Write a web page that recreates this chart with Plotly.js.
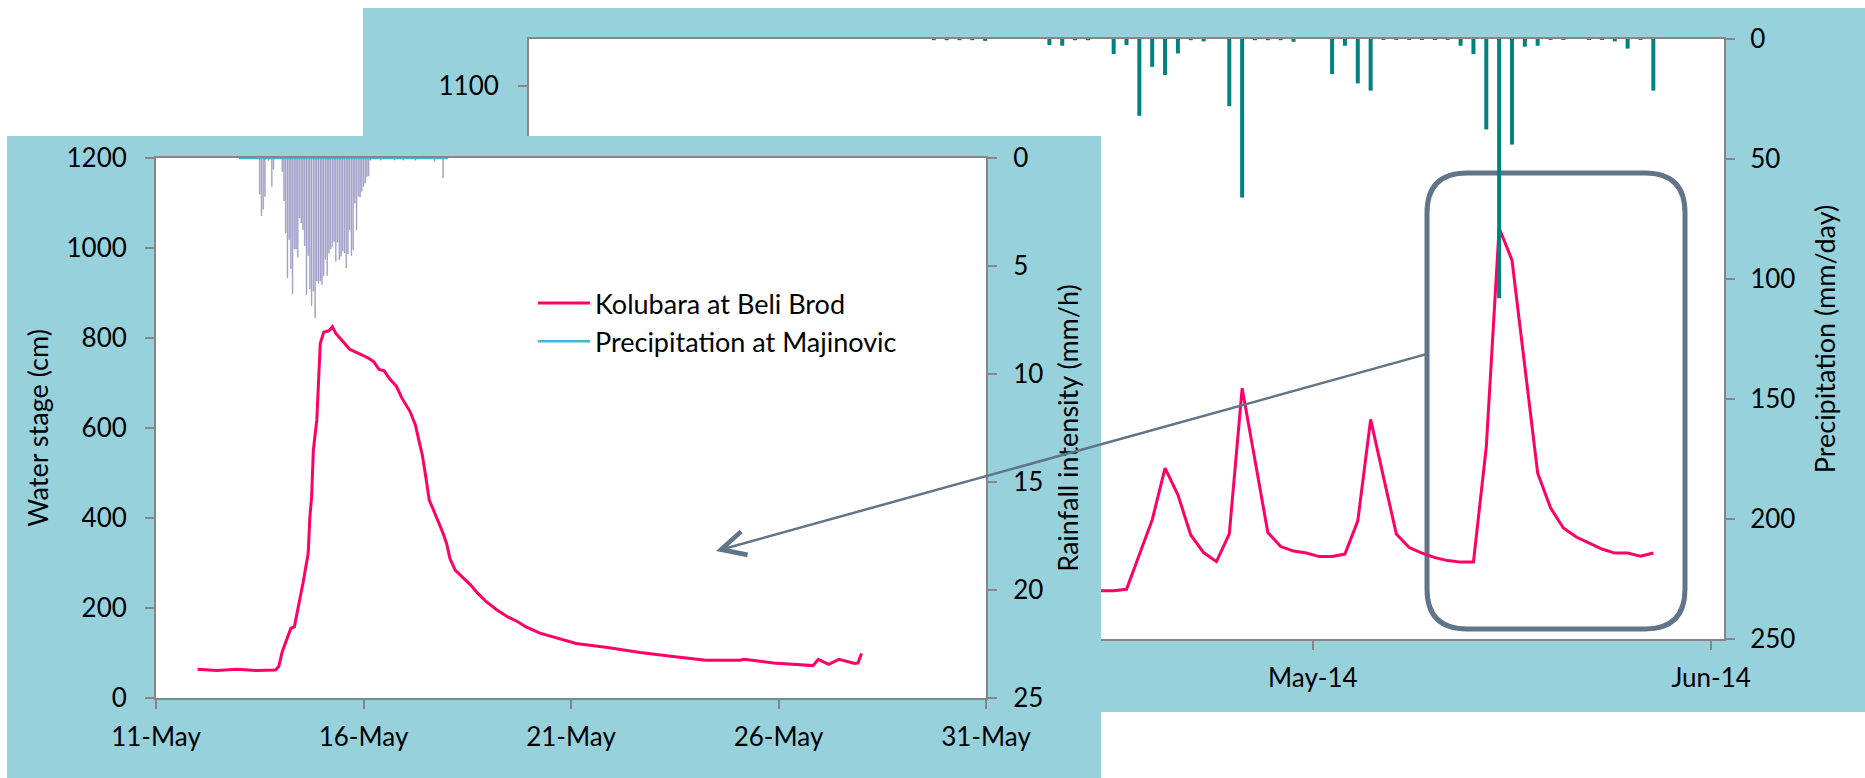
<!DOCTYPE html>
<html>
<head>
<meta charset="utf-8">
<script src="https://cdn.plot.ly/plotly-3.0.1.min.js"></script>
<style>
  html, body { margin: 0; padding: 0; background: #ffffff; }
  #chart { width: 1865px; height: 778px; }
</style>
</head>
<body>
<div id="chart"></div>
<script>
// ================= DATA =================
// Background chart: daily water stage (cm) and daily precipitation (mm/day)
const dailyDates = [
  '2014-04-14','2014-04-15','2014-04-16','2014-04-17','2014-04-18','2014-04-19','2014-04-20',
  '2014-04-21','2014-04-22','2014-04-23','2014-04-24','2014-04-25','2014-04-26','2014-04-27',
  '2014-04-28','2014-04-29','2014-04-30','2014-05-01','2014-05-02','2014-05-03','2014-05-04',
  '2014-05-05','2014-05-06','2014-05-07','2014-05-08','2014-05-09','2014-05-10','2014-05-11',
  '2014-05-12','2014-05-13','2014-05-14','2014-05-15','2014-05-16','2014-05-17','2014-05-18',
  '2014-05-19','2014-05-20','2014-05-21','2014-05-22','2014-05-23','2014-05-24','2014-05-25',
  '2014-05-26','2014-05-27'
];
const dailyStage = [
  96, 96, 99, 167, 237, 340, 287,
  207, 172, 154, 209, 499, 356, 212,
  184, 175, 171, 164, 164, 169, 235,
  437, 322, 209, 182, 171, 162, 156,
  153, 153, 382, 818, 754, 541, 330,
  261, 221, 203, 191, 179, 171, 171,
  165, 171
];
const rainDates = [
  '2014-04-01','2014-04-02','2014-04-03','2014-04-04','2014-04-05','2014-04-10','2014-04-11',
  '2014-04-12','2014-04-13','2014-04-15','2014-04-16','2014-04-17','2014-04-18','2014-04-19',
  '2014-04-20','2014-04-21','2014-04-22','2014-04-24','2014-04-25','2014-04-26','2014-04-27',
  '2014-04-28','2014-04-29','2014-05-02','2014-05-03','2014-05-04','2014-05-05','2014-05-06',
  '2014-05-07','2014-05-08','2014-05-09','2014-05-10','2014-05-11','2014-05-12','2014-05-13',
  '2014-05-14','2014-05-15','2014-05-16','2014-05-17','2014-05-18','2014-05-19','2014-05-20',
  '2014-05-22','2014-05-23','2014-05-24','2014-05-25','2014-05-26','2014-05-27'
];
const rainDaily = [
  0.5, 0.5, 0.5, 0.5, 0.8, 2.5, 2.8,
  0.5, 0.5, 6.3, 2.5, 32, 11.6, 15,
  6, 0.5, 1, 28, 66, 0.5, 0.5,
  0.5, 1.2, 14.6, 2.8, 18.5, 21.5, 0.4,
  0.4, 0.4, 0.4, 0.4, 0.4, 2.8, 6.3,
  37.7, 108, 44, 3.2, 2.8, 0.4, 0.4,
  0.4, 0.4, 1, 4, 0.4, 21.5
];

// Foreground chart: Kolubara at Beli Brod water stage (cm)
const stageTimes = [
  '2014-05-12 00:00','2014-05-12 11:00','2014-05-12 23:00','2014-05-13 10:00','2014-05-13 21:00',
  '2014-05-13 23:00','2014-05-14 01:00','2014-05-14 04:00','2014-05-14 06:00','2014-05-14 08:00',
  '2014-05-14 10:00','2014-05-14 13:00','2014-05-14 16:00','2014-05-14 17:00','2014-05-14 18:00',
  '2014-05-14 19:00','2014-05-14 21:00','2014-05-14 22:00','2014-05-14 23:00','2014-05-15 01:00',
  '2014-05-15 04:00','2014-05-15 06:00','2014-05-15 08:00','2014-05-15 11:00','2014-05-15 16:00',
  '2014-05-15 22:00','2014-05-16 03:00','2014-05-16 06:00','2014-05-16 09:00','2014-05-16 12:00',
  '2014-05-16 15:00','2014-05-16 19:00','2014-05-16 22:00','2014-05-17 03:00','2014-05-17 06:00',
  '2014-05-17 08:00','2014-05-17 10:00','2014-05-17 12:00','2014-05-17 14:00','2014-05-17 16:00',
  '2014-05-17 19:00','2014-05-17 22:00','2014-05-18 00:00','2014-05-18 02:00','2014-05-18 05:00',
  '2014-05-18 09:00','2014-05-18 14:00','2014-05-18 18:00','2014-05-18 23:00','2014-05-19 05:00',
  '2014-05-19 11:00','2014-05-19 17:00','2014-05-19 22:00','2014-05-20 06:00','2014-05-20 16:00',
  '2014-05-21 03:00','2014-05-21 21:00','2014-05-22 16:00','2014-05-23 11:00','2014-05-24 06:00',
  '2014-05-25 02:00','2014-05-25 04:00','2014-05-25 21:00','2014-05-26 20:00','2014-05-26 23:00',
  '2014-05-27 05:00','2014-05-27 11:00','2014-05-27 20:00','2014-05-27 22:00','2014-05-28 00:00'
];
const stageValues = [
  64, 61, 64, 61, 62,
  70, 103, 136, 155, 158,
  195, 255, 321, 403, 447,
  551, 618, 714, 788, 813,
  816, 825, 810, 797, 775,
  764, 755, 747, 730, 727,
  710, 693, 668, 636, 607,
  573, 540, 492, 440, 422,
  396, 366, 344, 310, 284,
  270, 251, 233, 214, 196,
  181, 170, 158, 144, 133,
  121, 112, 101, 92, 84,
  84, 86, 78, 72, 86,
  75, 86, 77, 78, 99
];

// Foreground chart: Precipitation at Majinovic, hourly rainfall intensity (mm/h)
const precipRecord = ['2014-05-13 00:00', '2014-05-18 01:00'];
const precipTimes = [
  '2014-05-13 12:00','2014-05-13 13:00','2014-05-13 14:00','2014-05-13 15:00','2014-05-13 17:00',
  '2014-05-13 19:00','2014-05-13 20:00','2014-05-14 01:00','2014-05-14 02:00','2014-05-14 03:00',
  '2014-05-14 04:00','2014-05-14 05:00','2014-05-14 06:00','2014-05-14 07:00','2014-05-14 08:00',
  '2014-05-14 09:00','2014-05-14 10:00','2014-05-14 11:00','2014-05-14 12:00','2014-05-14 13:00',
  '2014-05-14 14:00','2014-05-14 15:00','2014-05-14 16:00','2014-05-14 17:00','2014-05-14 18:00',
  '2014-05-14 19:00','2014-05-14 20:00','2014-05-14 21:00','2014-05-14 22:00','2014-05-14 23:00',
  '2014-05-15 00:00','2014-05-15 01:00','2014-05-15 02:00','2014-05-15 03:00','2014-05-15 04:00',
  '2014-05-15 05:00','2014-05-15 06:00','2014-05-15 07:00','2014-05-15 08:00','2014-05-15 09:00',
  '2014-05-15 10:00','2014-05-15 11:00','2014-05-15 12:00','2014-05-15 13:00','2014-05-15 14:00',
  '2014-05-15 15:00','2014-05-15 16:00','2014-05-15 17:00','2014-05-15 18:00','2014-05-15 19:00',
  '2014-05-15 20:00','2014-05-15 21:00','2014-05-15 22:00','2014-05-15 23:00','2014-05-16 00:00',
  '2014-05-16 01:00','2014-05-16 02:00','2014-05-16 03:00','2014-05-16 04:00','2014-05-16 10:00',
  '2014-05-16 18:00','2014-05-16 23:00','2014-05-17 06:00','2014-05-17 17:00','2014-05-17 22:00'
];
const precipValues = [
  1.68, 2.68, 2.37, 1.78, 0.12,
  1.32, 0.52, 0.63, 1.98, 3.47,
  5.55, 3.78, 5.13, 6.29, 4.21,
  4.21, 4.6, 2.78, 3.01, 3.32,
  4.06, 6.32, 4.52, 6.06, 6.83,
  6.17, 7.4, 5.7, 5.8, 5.7,
  5.86, 5.44, 4.7, 5.44, 4.4,
  4.21, 4.09, 3.86, 4.78, 3.9,
  4.7, 4.55, 4.3, 4.4, 5.09,
  4.45, 3.32, 4.52, 4.24, 2.09,
  3.32, 1.78, 1.81, 1.55, 1.32,
  1.17, 0.86, 0.83, 0.1, 0.1,
  0.1, 0.1, 0.1, 0.15, 0.91
];

// ================= LAYOUT HELPERS =================
const W = 1865, H = 778;
const fx = p => p / W;          // pixel x -> paper
const fy = p => 1 - p / H;      // pixel y -> paper
const BLUE = '#96D1DC';
const AXIS = '#868686';
const SLATE = '#627487';
const PINK = '#FF0066';
const FONT = 'Lato, "Open Sans", sans-serif';
const DAY = 86400000, HOUR = 3600000;

const axisBase = {
  showgrid: false, zeroline: false, showline: true, linecolor: AXIS, linewidth: 2,
  ticks: 'outside', ticklen: 9, tickwidth: 2, tickcolor: AXIS,
  tickfont: { family: FONT, size: 26, color: '#000000' }, fixedrange: true
};
const titleFont = { family: FONT, size: 27, color: '#000000' };

// ================= TRACES =================
const traces = [
  // --- background chart (subplot x / y, overlay y3) ---
  {
    type: 'scatter', mode: 'lines', x: dailyDates, y: dailyStage,
    xaxis: 'x', yaxis: 'y', xperiod: DAY, xperiodalignment: 'middle',
    line: { color: PINK, width: 3 }, showlegend: false, hoverinfo: 'skip'
  },
  {
    type: 'bar', x: rainDates, y: rainDaily, xaxis: 'x', yaxis: 'y3',
    xperiod: DAY, xperiodalignment: 'middle', width: 0.31 * DAY,
    marker: { color: '#00827F', line: { width: 0 } }, showlegend: false, hoverinfo: 'skip'
  },
  // --- cover panel subplot (x2 / y2), no marks ---
  {
    type: 'scatter', mode: 'lines', x: [], y: [], xaxis: 'x2', yaxis: 'y2',
    showlegend: false, hoverinfo: 'skip'
  },
  // --- foreground chart (subplot x3 / y4, overlay y5) ---
  {
    type: 'scatter', mode: 'lines', name: 'Kolubara at Beli Brod',
    x: stageTimes, y: stageValues, xaxis: 'x3', yaxis: 'y4',
    line: { color: PINK, width: 3 }, hoverinfo: 'skip'
  },
  {
    type: 'bar', x: precipTimes, y: precipValues, xaxis: 'x3', yaxis: 'y5',
    width: 0.45 * HOUR, marker: { color: '#ACACD3', line: { color: '#7272AA', width: 0.35 } },
    showlegend: false, hoverinfo: 'skip'
  },
  {
    type: 'scatter', mode: 'lines', name: 'Precipitation at Majinovic',
    x: precipRecord, y: precipRecord.map(() => 0), xaxis: 'x3', yaxis: 'y5',
    line: { color: '#4BB3CC', width: 2.5 }, hoverinfo: 'skip'
  }
];

// rounded rectangle (highlight box) path in paper coordinates
function roundRect(x0, y0, x1, y1, r) {
  const X = p => fx(p).toFixed(5), Y = p => fy(p).toFixed(5);
  return 'M' + X(x0 + r) + ',' + Y(y0) +
    ' H' + X(x1 - r) + ' Q' + X(x1) + ',' + Y(y0) + ' ' + X(x1) + ',' + Y(y0 + r) +
    ' V' + Y(y1 - r) + ' Q' + X(x1) + ',' + Y(y1) + ' ' + X(x1 - r) + ',' + Y(y1) +
    ' H' + X(x0 + r) + ' Q' + X(x0) + ',' + Y(y1) + ' ' + X(x0) + ',' + Y(y1 - r) +
    ' V' + Y(y0 + r) + ' Q' + X(x0) + ',' + Y(y0) + ' ' + X(x0 + r) + ',' + Y(y0) + ' Z';
}

const layout = {
  width: W, height: H,
  margin: { l: 0, r: 0, t: 0, b: 0, pad: 0 },
  paper_bgcolor: '#ffffff', plot_bgcolor: '#ffffff',
  showlegend: true,
  hovermode: false,
  font: { family: FONT, color: '#000000' },

  // background chart axes
  xaxis: Object.assign({}, axisBase, {
    type: 'date', domain: [fx(529), fx(1724)], anchor: 'y',
    range: ['2014-03-01', '2014-06-02'], tick0: '2014-03-01', dtick: 'M1',
    tickformat: '%b-%y', mirror: true, ticklabelstandoff: 6
  }),
  yaxis: Object.assign({}, axisBase, {
    domain: [fy(639), fy(39)], anchor: 'x', range: [0, 1194], tick0: 100, dtick: 200,
    ticklabelstandoff: 14
  }),
  yaxis3: Object.assign({}, axisBase, {
    overlaying: 'y', side: 'right', anchor: 'x', range: [250, 0], dtick: 50,
    ticklabelstandoff: 10,
    title: { text: 'Precipitation (mm/day)', font: titleFont, standoff: 22 }
  }),

  // cover panel for the inset chart (drawn between the two charts)
  xaxis2: { domain: [fx(7), fx(1101)], anchor: 'y2', range: [0, 1], visible: false, fixedrange: true },
  yaxis2: { domain: [0, fy(136)], anchor: 'x2', range: [0, 1], visible: false, fixedrange: true },

  // foreground chart axes
  xaxis3: Object.assign({}, axisBase, {
    type: 'date', domain: [fx(156), fx(986)], anchor: 'y4',
    range: ['2014-05-11', '2014-05-31'], tick0: '2014-05-11', dtick: 5 * DAY,
    tickformat: '%-d-%b', mirror: true, ticklabelstandoff: 6
  }),
  yaxis4: Object.assign({}, axisBase, {
    domain: [fy(698), fy(158)], anchor: 'x3', range: [0, 1200], dtick: 200,
    ticklabelstandoff: 13,
    title: { text: 'Water stage (cm)', font: titleFont, standoff: 10 }
  }),
  yaxis5: Object.assign({}, axisBase, {
    overlaying: 'y4', side: 'right', anchor: 'x3', range: [25, 0], dtick: 5,
    ticklabelstandoff: 11,
    title: { text: 'Rainfall intensity (mm/h)', font: titleFont, standoff: 17 }
  }),

  legend: {
    x: fx(533), xanchor: 'left', y: fy(279), yanchor: 'top',
    bgcolor: 'rgba(0,0,0,0)', borderwidth: 0, itemwidth: 52,
    font: { family: FONT, size: 27, color: '#000000' },
    tracegroupgap: 0
  },

  shapes: [
    // background panel
    { type: 'rect', xref: 'paper', yref: 'paper', x0: fx(363), x1: 1, y0: fy(712), y1: fy(8),
      fillcolor: BLUE, line: { width: 0 }, layer: 'below' },
    // background plot area
    { type: 'rect', xref: 'paper', yref: 'paper', x0: fx(529), x1: fx(1724), y0: fy(639), y1: fy(39),
      fillcolor: '#ffffff', line: { width: 0 }, layer: 'below' },
    // highlight box around the May flood
    { type: 'path', xref: 'paper', yref: 'paper', path: roundRect(1427, 173, 1685, 629, 40),
      line: { color: SLATE, width: 5 }, fillcolor: 'rgba(0,0,0,0)', layer: 'below' },
    // inset panel (covers the background chart)
    { type: 'rect', xref: 'x2', yref: 'y2', x0: 0, x1: 1, y0: 0, y1: 1,
      fillcolor: BLUE, line: { width: 0 }, layer: 'below' }
  ],

  annotations: [
    { xref: 'paper', yref: 'paper', x: fx(716), y: fy(551),
      axref: 'pixel', ayref: 'pixel', ax: 1427 - 716, ay: 354 - 551,
      text: '', showarrow: true, arrowhead: 5, arrowsize: 1.9, arrowwidth: 2.5,
      arrowcolor: SLATE, standoff: 0, startstandoff: 0 }
  ]
};

Plotly.newPlot('chart', traces, layout, { staticPlot: true, displayModeBar: false });
</script>
</body>
</html>
